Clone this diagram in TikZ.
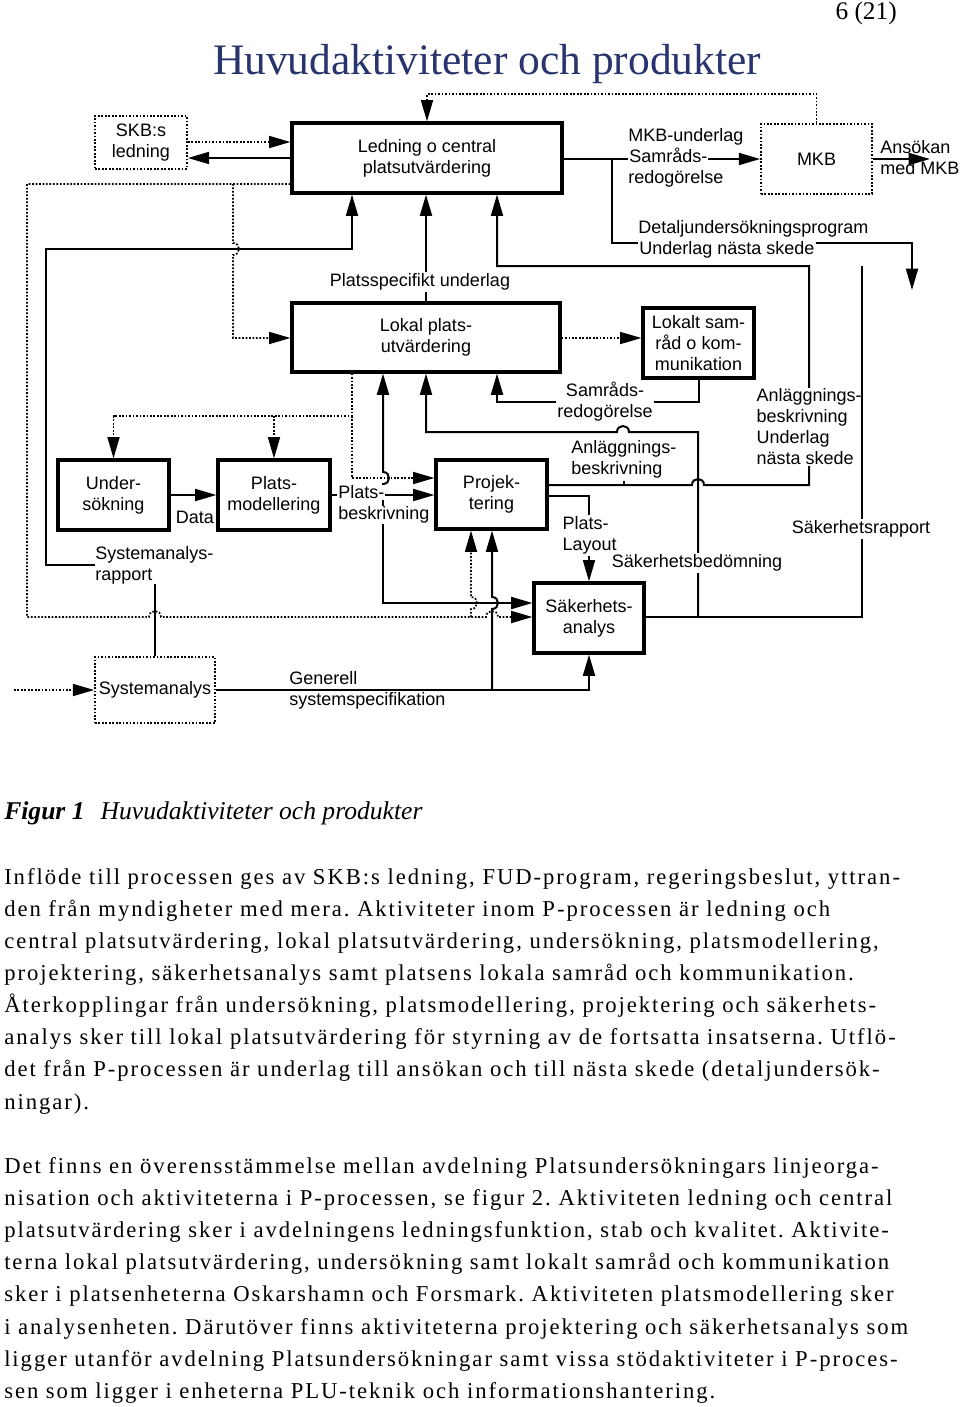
\documentclass[tikz,border=0pt]{standalone}
\usepackage{fontspec}
\setmainfont{Liberation Serif}
\newfontfamily\diagfont{Liberation Sans}
\newfontfamily\bodyfont[LetterSpace=8.6]{Liberation Serif}
\usetikzlibrary{arrows.meta}
\definecolor{titleblue}{RGB}{40,52,110}
\newcommand{\wb}[1]{{\setlength{\fboxsep}{0.8pt}\colorbox{white}{#1}}}
\newcommand{\dfont}{\diagfont\fontsize{13.5}{15.75}\selectfont}
\newcommand{\bfnt}{\bodyfont\fontsize{17}{24}\selectfont}
\frenchspacing
\begin{document}
\begin{tikzpicture}[x=0.75pt,y=-0.75pt,
  box/.style={draw, line width=2.4pt, align=center, inner sep=0pt, font=\dfont},
  dbox/.style={draw, line width=1.3pt, dash pattern=on 1.3pt off 1.3pt, align=center, inner sep=0pt, font=\dfont},
  conn/.style={line width=1.5pt},
  dconn/.style={line width=1.3pt, dash pattern=on 1.3pt off 1.3pt},
  arr/.style={-{Triangle[length=16pt,width=9pt]}},
  lbl/.style={font=\dfont, align=left, inner sep=0pt},
  body/.style={anchor=base west, inner sep=0pt, font=\bfnt}]
\fill[white] (0,0) rectangle (960,1407);
\useasboundingbox (0,0) rectangle (960,1407);

% title and page number
\node[anchor=base, inner sep=0pt, font=\fontsize{32.6}{36}\selectfont, text=titleblue] (title) at (487,74) {Huvudaktiviteter och produkter};
\node[anchor=base east, inner sep=0pt, font=\fontsize{19}{22}\selectfont] (pg) at (897,19) {6 (21)};

% boxes
\node[dbox, minimum width=69pt, minimum height=39.75pt] (skb) at (141,142.5) {SKB:s\\ledning};
\node[box, minimum width=202.5pt, minimum height=52.5pt] (led) at (427,158) {Ledning o central\\platsutvärdering};
\node[dbox, minimum width=83.25pt, minimum height=52.5pt] (mkb) at (816.5,159) {MKB};
\node[box, minimum width=201pt, minimum height=51.75pt] (lok) at (426,337.5) {Lokal plats-\\utvärdering};
\node[box, minimum width=83.25pt, minimum height=52.5pt] (sam) at (698.5,343) {Lokalt sam-\\råd o kom-\\munikation};
\node[box, minimum width=83.25pt, minimum height=52.5pt] (und) at (113.5,495) {Under-\\sökning};
\node[box, minimum width=84pt, minimum height=52.5pt] (pmod) at (274,495) {Plats-\\modellering};
\node[box, minimum width=83.25pt, minimum height=51.75pt] (proj) at (491.5,494.5) {Projek-\\tering};
\node[box, minimum width=82.5pt, minimum height=52.5pt] (sak) at (589,618) {Säkerhets-\\analys};
\node[dbox, minimum width=90pt, minimum height=49.5pt] (sys) at (155,690) {Systemanalys};

% free ends and junctions
\coordinate (dout) at (912,290);
\coordinate (aout) at (930,159);
\coordinate (sin) at (14,690);
\coordinate (j1) at (612,159);
\coordinate (d1) at (233,184);
\coordinate (d2) at (352,416);
\coordinate (d3) at (274,416);
\coordinate (pb) at (383,495);
\coordinate (sb) at (698,617);
\coordinate (gs) at (492,690);
\coordinate (dv) at (471,617);

% top connectors
\draw[dconn,arr] (mkb.north) -- ++(0,-29) -| (led.north);
\draw[dconn,arr] (skb.east|-0,142) -- (led.west|-0,142);
\draw[conn,arr] (led.west|-0,158) -- (skb.east|-0,158);
\draw[conn,arr] (led.east|-0,159) -- (mkb.west|-0,159);
\node[lbl, anchor=west] (lmkbu) at (628,157.5) {MKB-underlag\\\wb{Samråds-}\\redogörelse};
\draw[conn,arr] (j1) -- (612,243) -| (dout);
\node[lbl, anchor=west] (ldet) at (638,239.5) {Detaljundersökningsprogram\\\wb{Underlag nästa skede}};
\node[lbl, anchor=west] (lans) at (880,158) {Ansökan\\med MKB};
\draw[conn,arr] (mkb.east) -- (aout);

% Platsspecifikt underlag
\draw[conn,arr] (lok.north) -- (lok.north|-led.south);
\node[lbl, fill=white, inner sep=1pt] (lpsu) at (420,282) {Platsspecifikt underlag};

% Systemanalysrapport
\draw[conn,arr] (sys.north) -- (sys.north|-0,565) -- (46,565) -- (46,249) -- (352,249) -- (led.south-|352,0);
\node[lbl, anchor=west, fill=white] (lsar) at (95,565) {Systemanalys-\\rapport};

% dotted loop
\draw[dconn,arr] (led.west|-0,184) -- (27,184) -- (27,617) -- (149,617) .. controls (149,609) and (161,609) .. (161,617) -- (486,617) .. controls (486,609) and (498,609) .. (498,617) -- (sak.west|-0,617);
\draw[dconn,arr] (d1) -- (233,243) .. controls (241,243) and (241,255) .. (233,255) -- (233,338) -- (lok.west|-0,338);

% dotted from Lokal
\draw[dconn,arr] (lok.south-|352,0) -- (d2) -| (und.north);
\draw[dconn,arr] (d3) -- (pmod.north);
\draw[dconn,arr] (d2) -- (352,478) -- (proj.west|-0,478);
\draw[dconn,arr] (lok.east|-0,338) -- (sam.west|-0,338);

% Data
\draw[conn,arr] (und.east) -- (pmod.west);
\node[lbl] (ldata) at (195,517) {Data};

% Platsbeskrivning
\draw[conn,arr] (pmod.east) -- (proj.west|-0,495);
\draw[conn,arr] (pb) -- (383,484) .. controls (391,484) and (391,472) .. (383,472) -- (lok.south-|383,0);
\draw[conn,arr] (pb) -- (383,603) -- (sak.west|-0,603);
\node[lbl, anchor=west] (lpb) at (337,504.5) {\wb{Plats-}\\\wb{beskrivning}};

% Projektering outputs
\draw[conn,arr] (proj.east|-0,485) -- (692,485) .. controls (692,477) and (704,477) .. (704,485) -- (809,485) -- (809,266) -- (497,266) -- (led.south-|497,0);
\draw[conn] (624,485) -- (624,481);
\node[lbl, anchor=west, fill=white, inner sep=1pt] (lab1) at (755,427) {Anläggnings-\\beskrivning\\Underlag\\nästa skede};
\node[lbl, anchor=west] (lab2) at (571,459.5) {Anläggnings-\\beskrivning};
\draw[conn,arr] (proj.east|-0,496) -- (589,496) -- (sak.north);
\node[lbl, anchor=west, fill=white, inner sep=1pt] (lpl) at (561,535.5) {Plats-\\Layout};

% Säkerhetsanalys outputs
\draw[conn] (sak.east|-0,617) -- (862,617) -- (862,266);
\draw[conn,arr] (sb) -- (698,432) -- (629,432) .. controls (629,424) and (617,424) .. (617,432) -- (426,432) -- (lok.south-|426,0);
\node[lbl, fill=white, inner sep=1pt] (lsb) at (697,563) {Säkerhetsbedömning};
\node[lbl, fill=white, inner sep=1pt] (lsr) at (861,529) {Säkerhetsrapport};

% Samrådsredogörelse
\draw[conn,arr] (sam.south) -- (sam.south|-0,402) -- (497,402) -- (lok.south-|497,0);
\node[lbl, align=center, fill=white, inner sep=1pt] (lsrg) at (605,401.5) {Samråds-\\redogörelse};

% Systemanalys
\draw[dconn,arr] (sin) -- (sys.west);
\draw[conn,arr] (sys.east) -- (589,690) -- (sak.south);
\draw[conn,arr] (gs) -- (492,609) .. controls (500,609) and (500,597) .. (492,597) -- (proj.south-|492,0);
\draw[dconn,arr] (dv) -- (471,609) .. controls (479,609) and (479,597) .. (471,597) -- (proj.south-|471,0);
\node[lbl, anchor=west] (lgs) at (289,690.5) {Generell\\systemspecifikation};

% caption and body text
\node[anchor=base west, inner sep=0pt, font=\fontsize{19.2}{22}\selectfont] (cap) at (4,819) {\textbf{\textit{Figur 1}}\hspace{12pt}\textit{Huvudaktiviteter och produkter}};
\node[body] (t1) at (4,884) {Inflöde till processen ges av SKB:s ledning, FUD-program, regeringsbeslut, yttran-};
\node[body] (t2) at (4,916) {den från myndigheter med mera. Aktiviteter inom P-processen är ledning och};
\node[body] (t3) at (4,948) {central platsutvärdering, lokal platsutvärdering, undersökning, platsmodellering,};
\node[body] (t4) at (4,980) {projektering, säkerhetsanalys samt platsens lokala samråd och kommunikation.};
\node[body] (t5) at (4,1012) {Återkopplingar från undersökning, platsmodellering, projektering och säkerhets-};
\node[body] (t6) at (4,1044) {analys sker till lokal platsutvärdering för styrning av de fortsatta insatserna. Utflö-};
\node[body] (t7) at (4,1076) {det från P-processen är underlag till ansökan och till nästa skede (detaljundersök-};
\node[body] (t8) at (4,1109) {ningar).};
\node[body] (u1) at (4,1173) {Det finns en överensstämmelse mellan avdelning Platsundersökningars linjeorga-};
\node[body] (u2) at (4,1205) {nisation och aktiviteterna i P-processen, se figur 2. Aktiviteten ledning och central};
\node[body] (u3) at (4,1237) {platsutvärdering sker i avdelningens ledningsfunktion, stab och kvalitet. Aktivite-};
\node[body] (u4) at (4,1269) {terna lokal platsutvärdering, undersökning samt lokalt samråd och kommunikation};
\node[body] (u5) at (4,1301) {sker i platsenheterna Oskarshamn och Forsmark. Aktiviteten platsmodellering sker};
\node[body] (u6) at (4,1334) {i analysenheten. Därutöver finns aktiviteterna projektering och säkerhetsanalys som};
\node[body] (u7) at (4,1366) {ligger utanför avdelning Platsundersökningar samt vissa stödaktiviteter i P-proces-};
\node[body] (u8) at (4,1398) {sen som ligger i enheterna PLU-teknik och informationshantering.};
\end{tikzpicture}
\end{document}
